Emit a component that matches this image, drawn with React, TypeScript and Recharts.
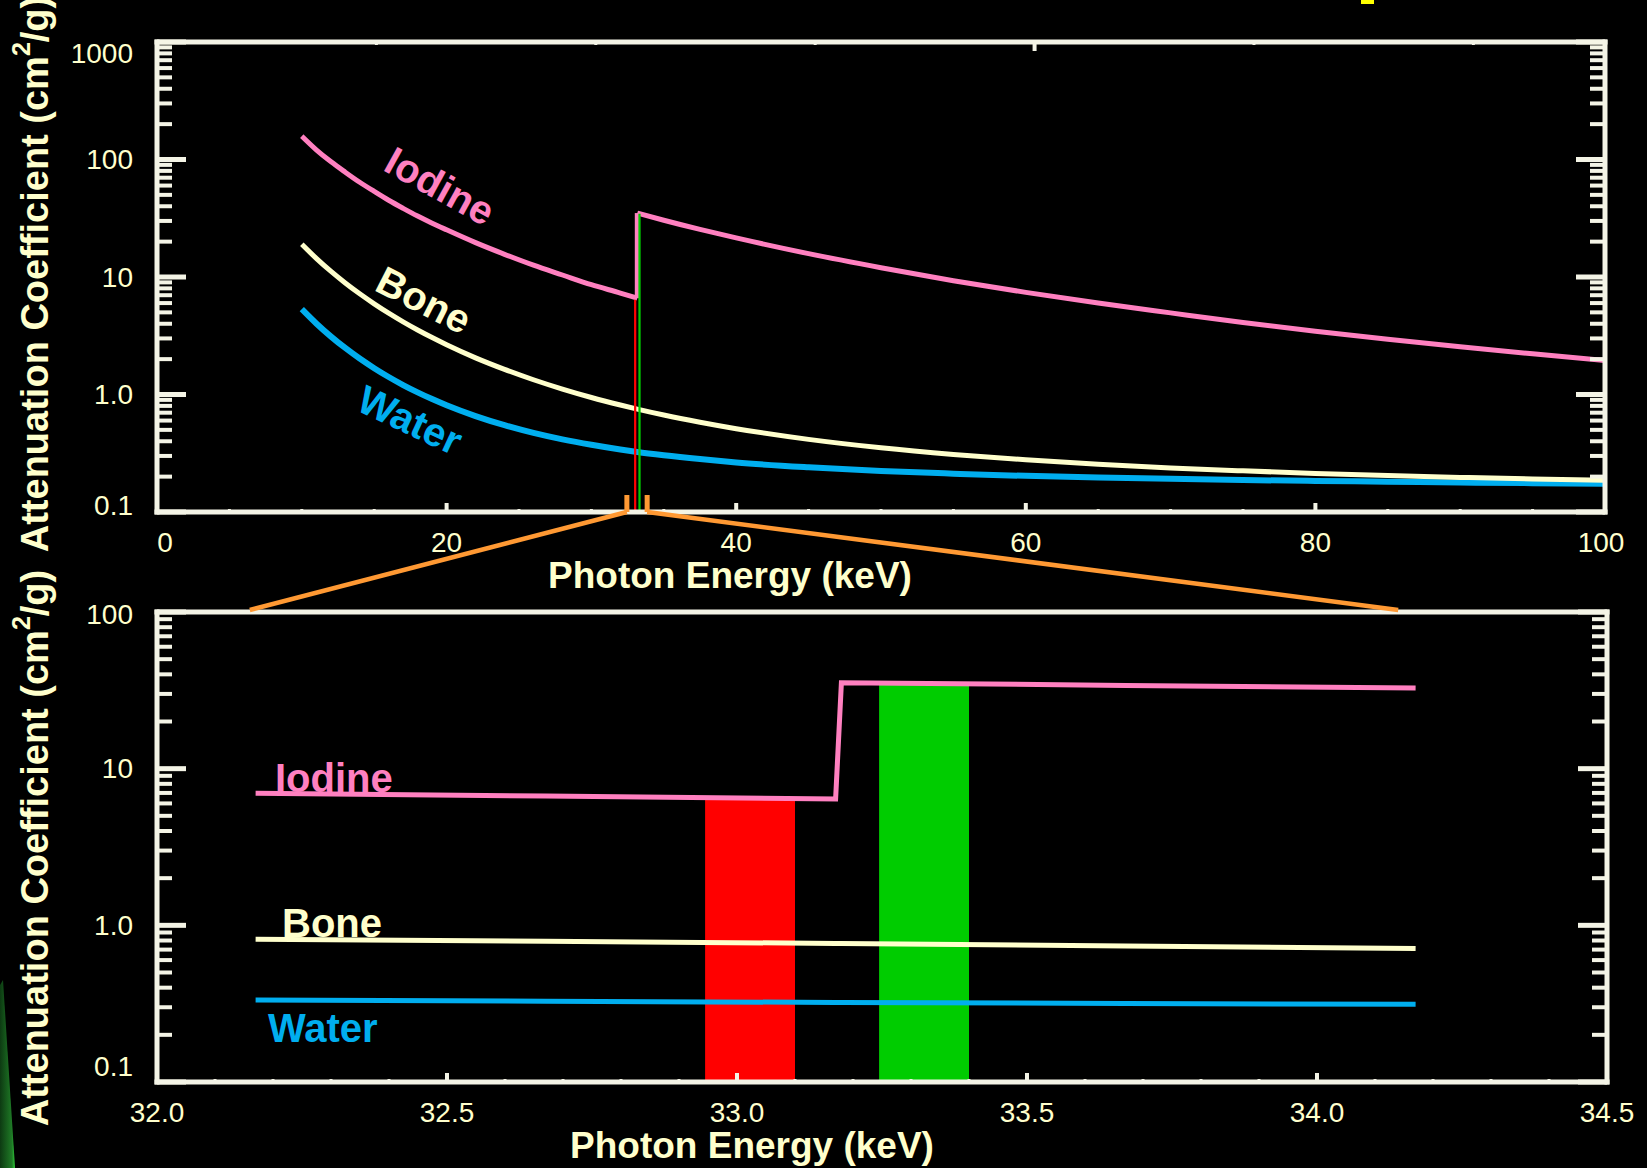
import React from "react";
import { LineChart, Line, XAxis, YAxis, ReferenceArea } from "recharts";

const FONT = '"Liberation Sans", Arial, Helvetica, sans-serif';
const CREAM = "#FFFFCC";
const FRAME = "#F4F4E6";
const PINK = "#FF80C0";
const BONE = "#FFFFCC";
const BLUE = "#00AEEF";
const ORANGE = "#FF9933";

// top panel: 10–100 keV (iodine K-edge at 33.17 keV, listed twice)
const topEnergy = [10, 11, 12, 13, 14, 15, 16, 17, 18, 19, 20, 22, 24, 26, 28, 30, 32, 33.17, 33.17, 35, 37.5, 40, 45, 50, 55, 60, 65, 70, 75, 80, 85, 90, 95, 100];
const topIodine = [158, 121, 96, 78, 64, 53.5, 45, 38.4, 33, 28.7, 25.2, 19.6, 15.6, 12.6, 10.4, 8.6, 7.3, 6.6, 35, 30.4, 25.4, 21.5, 15.8, 12.0, 9.3, 7.4, 6.0, 4.95, 4.1, 3.45, 2.95, 2.55, 2.22, 1.95];
const topBone = [19.0, 14.41, 11.2, 8.89, 7.19, 5.91, 4.92, 4.15, 3.54, 3.05, 2.65, 2.05, 1.636, 1.335, 1.112, 0.943, 0.814, 0.751, 0.751, 0.669, 0.581, 0.512, 0.415, 0.352, 0.309, 0.278, 0.255, 0.237, 0.224, 0.213, 0.204, 0.197, 0.191, 0.186];
const topWater = [5.33, 4.025, 3.126, 2.488, 2.022, 1.674, 1.409, 1.204, 1.043, 0.914, 0.81, 0.655, 0.548, 0.471, 0.415, 0.373, 0.34, 0.324, 0.324, 0.304, 0.282, 0.264, 0.24, 0.223, 0.212, 0.203, 0.197, 0.192, 0.187, 0.184, 0.181, 0.178, 0.176, 0.174];

// bottom panel: zoom on the edge, 32.17–34.17 keV
const botEnergy = [32.17, 32.67, 33.17, 33.18, 33.67, 34.17];
const botIodine = [6.97, 6.68, 6.4, 35.4, 34.0, 32.7];
const botBone = [0.815, 0.79, 0.767, 0.766, 0.738, 0.711];
const botWater = [0.334, 0.328, 0.322, 0.322, 0.317, 0.313];

// energy windows below / above the edge
const bandFrom = [32.945, 33.245];
const bandTo = [33.1, 33.4];
const bandTop = [6.4, 34.5];
const bandColor = ["#FF0000", "#00CC00"];

// axes
const topXMajor = [0, 20, 40, 60, 80, 100];
const topXMinorStep = 5;
const botXMajor = [32.0, 32.5, 33.0, 33.5, 34.0, 34.5];
const botXMinorStep = 0.1;
const topDecades = [0.1, 1, 10, 100, 1000];
const botDecades = [0.1, 1, 10, 100];

// zoom annotation (keV on the top axis -> keV on the bottom axis)
const zoomFromTop = [32.45, 33.85];
const zoomToBottom = [32.16, 34.14];

const TOP = { left: 157, right: 1605, top: 42, bottom: 512, x0: 0, x1: 100 };
const BOT = { left: 157, right: 1607, top: 612, bottom: 1082, x0: 32, x1: 34.5 };
const px = (g: typeof TOP, e: number) => g.left + ((e - g.x0) / (g.x1 - g.x0)) * (g.right - g.left);

// split iodine at the edge so both branches can be smooth curves
const edgeIdx = topEnergy.findIndex((e, i) => e === topEnergy[i + 1]);
const topData = topEnergy.map((e, i) => ({
  e,
  iodineLo: i <= edgeIdx ? topIodine[i] : null,
  iodineHi: i > edgeIdx ? topIodine[i] : null,
  iodineEdge: i === edgeIdx || i === edgeIdx + 1 ? topIodine[i] : null,
  bone: i === edgeIdx + 1 ? null : topBone[i],
  water: i === edgeIdx + 1 ? null : topWater[i],
}));
const botData = botEnergy.map((e, i) => ({ e, iodine: botIodine[i], bone: botBone[i], water: botWater[i] }));

function logTicks(decades: number[]) {
  const out: number[] = [];
  decades.forEach((d, i) => {
    out.push(d);
    if (i < decades.length - 1) for (let k = 2; k <= 9; k++) out.push(Number((d * k).toPrecision(3)));
  });
  return out;
}

function linTicks(majors: number[], step: number) {
  const out: number[] = [];
  const a = majors[0], b = majors[majors.length - 1];
  const n = Math.round((b - a) / step);
  for (let i = 0; i <= n; i++) out.push(Number((a + i * step).toFixed(2)));
  return out;
}

const isIn = (list: number[], v: number) => list.some((m) => Math.abs(m - v) < 1e-6);
const fmtY = (v: number) => (v >= 10 ? String(v) : v.toFixed(1));

function yTick(side: "left" | "right", majors: number[], nudge: Record<string, number>) {
  return (p: any) => {
    const v = p.payload.value;
    const major = isIn(majors, v);
    const dir = side === "left" ? 1 : -1;
    const len = major ? 29 : 15;
    return (
      <g>
        <line x1={p.x} y1={p.y} x2={p.x + dir * len} y2={p.y} stroke={FRAME} strokeWidth={major ? 5 : 4} />
        {side === "left" && major && (
          <text x={p.x - 24} y={p.y + (nudge[String(v)] ?? 0)} textAnchor="end" dominantBaseline="central"
            fill={CREAM} fontSize={28} fontFamily={FONT}>
            {fmtY(v)}
          </text>
        )}
      </g>
    );
  };
}

function xTick(side: "top" | "bottom", majors: number[], fmt: (v: number) => string, nudge: Record<string, number> = {}) {
  return (p: any) => {
    const v = p.payload.value;
    const major = isIn(majors, v);
    const dir = side === "bottom" ? -1 : 1;
    const len = major ? 9 : 3;
    return (
      <g>
        <line x1={p.x} y1={p.y} x2={p.x} y2={p.y + dir * len} stroke={FRAME} strokeWidth={major ? 4 : 3} />
        {side === "bottom" && major && (
          <text x={p.x + (nudge[String(v)] ?? 0)} y={p.y + 40} textAnchor="middle" fill={CREAM} fontSize={28} fontFamily={FONT}>
            {fmt(v)}
          </text>
        )}
      </g>
    );
  };
}

const axisLine = { stroke: FRAME, strokeWidth: 5, strokeLinecap: "square" as const };

function Bands({ z }: { z: number }) {
  return (
    <>
      {bandFrom.map((f, i) => (
        <ReferenceArea key={i} x1={f} x2={bandTo[i]} y1={0.1} y2={bandTop[i]} fill={bandColor[i]}
          fillOpacity={1} stroke="none" ifOverflow="hidden" zIndex={z} />
      ))}
    </>
  );
}

export default function App() {
  const topY = logTicks(topDecades);
  const botY = logTicks(botDecades);
  const topX = linTicks(topXMajor, topXMinorStep);
  const botX = linTicks(botXMajor, botXMinorStep);

  return (
    <div style={{ position: "absolute", left: 0, top: 0, width: 1647, height: 1168, background: "#000", overflow: "hidden" }}>
      {/* upper panel */}
      <div style={{ position: "absolute", left: 0, top: 0 }}>
        <LineChart width={1647} height={600} data={topData} margin={{ top: 32, right: 32, bottom: 38, left: 57 }}>
          <XAxis xAxisId={0} dataKey="e" type="number" domain={[0, 100]} allowDataOverflow ticks={topX} interval={0}
            height={50} tickSize={0} tickMargin={0} tickLine={false} axisLine={axisLine}
            tick={xTick("bottom", topXMajor, (v) => String(v), { "0": 8, "100": -4 })} />
          <XAxis xAxisId="top" orientation="top" type="number" domain={[0, 100]} allowDataOverflow ticks={topX} interval={0}
            height={10} tickSize={0} tickMargin={0} tickLine={false} axisLine={axisLine}
            tick={xTick("top", topXMajor, (v) => String(v))} />
          <YAxis yAxisId={0} type="number" scale="log" domain={[0.1, 1000]} allowDataOverflow ticks={topY} interval={0}
            width={100} tickSize={0} tickMargin={0} tickLine={false} axisLine={axisLine}
            tick={yTick("left", topDecades, { "1000": 11, "0.1": -7 })} />
          <YAxis yAxisId="right" orientation="right" type="number" scale="log" domain={[0.1, 1000]} allowDataOverflow
            ticks={topY} interval={0} width={10} tickSize={0} tickMargin={0} tickLine={false} axisLine={axisLine}
            tick={yTick("right", topDecades, {})} />
          <Line type="monotone" dataKey="water" stroke={BLUE} strokeWidth={6} dot={false} connectNulls isAnimationActive={false} />
          <Line type="monotone" dataKey="bone" stroke={BONE} strokeWidth={5} dot={false} connectNulls isAnimationActive={false} />
          <Line type="monotone" dataKey="iodineLo" stroke={PINK} strokeWidth={5} dot={false} isAnimationActive={false} />
          <Line type="linear" dataKey="iodineEdge" stroke={PINK} strokeWidth={5} dot={false} isAnimationActive={false} />
          <Line type="monotone" dataKey="iodineHi" stroke={PINK} strokeWidth={5} dot={false} isAnimationActive={false} />
          <Bands z={450} />
        </LineChart>
      </div>

      {/* lower panel */}
      <div style={{ position: "absolute", left: 0, top: 560 }}>
        <LineChart width={1647} height={608} data={botData} margin={{ top: 42, right: 30, bottom: 36, left: 57 }}>
          <Bands z={50} />
          <XAxis xAxisId={0} dataKey="e" type="number" domain={[32, 34.5]} allowDataOverflow ticks={botX} interval={0}
            height={50} tickSize={0} tickMargin={0} tickLine={false} axisLine={axisLine}
            tick={xTick("bottom", botXMajor, (v) => v.toFixed(1))} />
          <XAxis xAxisId="top" orientation="top" type="number" domain={[32, 34.5]} allowDataOverflow ticks={botX} interval={0}
            height={10} tickSize={0} tickMargin={0} tickLine={false} axisLine={axisLine}
            tick={xTick("top", botXMajor, (v) => v.toFixed(1))} />
          <YAxis yAxisId={0} type="number" scale="log" domain={[0.1, 100]} allowDataOverflow ticks={botY} interval={0}
            width={100} tickSize={0} tickMargin={0} tickLine={false} axisLine={axisLine}
            tick={yTick("left", botDecades, { "100": 2, "0.1": -16 })} />
          <YAxis yAxisId="right" orientation="right" type="number" scale="log" domain={[0.1, 100]} allowDataOverflow
            ticks={botY} interval={0} width={10} tickSize={0} tickMargin={0} tickLine={false} axisLine={axisLine}
            tick={yTick("right", botDecades, {})} />
          <Line dataKey="water" stroke={BLUE} strokeWidth={5} dot={false} isAnimationActive={false} />
          <Line dataKey="bone" stroke={BONE} strokeWidth={5} dot={false} isAnimationActive={false} />
          <Line dataKey="iodine" stroke={PINK} strokeWidth={5} dot={false} isAnimationActive={false} />
        </LineChart>
      </div>

      {/* annotations */}
      <svg width={1647} height={1168} style={{ position: "absolute", left: 0, top: 0, pointerEvents: "none" }} fontFamily={FONT}>
        <defs>
          <linearGradient id="edgeGlow" x1="0" y1="0" x2="1" y2="0">
            <stop offset="0%" stopColor="#0d3a12" />
            <stop offset="80%" stopColor="#1f7a26" />
            <stop offset="100%" stopColor="#2fcf3a" />
          </linearGradient>
        </defs>
        <polygon points="0,985 3,980 15,1168 0,1168" fill="url(#edgeGlow)" />
        <rect x={1361} y={0} width={13} height={4} fill="#FFFF00" />

        {zoomFromTop.map((e, i) => (
          <g key={i}>
            <line x1={px(TOP, e)} y1={TOP.bottom - 17} x2={px(TOP, e)} y2={TOP.bottom} stroke={ORANGE} strokeWidth={5} />
            <line x1={px(TOP, e)} y1={TOP.bottom} x2={px(BOT, zoomToBottom[i])} y2={BOT.top - 2} stroke={ORANGE} strokeWidth={4.5} />
          </g>
        ))}

        {[274, 848].map((cy) => (
          <text key={cy} transform={`translate(35,${cy}) rotate(-90)`} textAnchor="middle" dominantBaseline="central"
            fill={CREAM} fontSize={38} fontWeight="bold">
            Attenuation Coefficient (cm<tspan baselineShift="super" fontSize={25}>2</tspan>/g)
          </text>
        ))}
        <text x={730} y={588} textAnchor="middle" fill={CREAM} fontSize={37} fontWeight="bold">Photon Energy (keV)</text>
        <text x={752} y={1158} textAnchor="middle" fill={CREAM} fontSize={37} fontWeight="bold">Photon Energy (keV)</text>

        <text transform="translate(440,186) rotate(29)" textAnchor="middle" dominantBaseline="central" fill={PINK} fontSize={40} fontWeight="bold">Iodine</text>
        <text transform="translate(424,300) rotate(27)" textAnchor="middle" dominantBaseline="central" fill={BONE} fontSize={40} fontWeight="bold">Bone</text>
        <text transform="translate(410,420) rotate(25)" textAnchor="middle" dominantBaseline="central" fill={BLUE} fontSize={40} fontWeight="bold">Water</text>

        <text x={275} y={792} fill={PINK} fontSize={40} fontWeight="bold">Iodine</text>
        <text x={282} y={937} fill={BONE} fontSize={40} fontWeight="bold">Bone</text>
        <text x={268} y={1042} fill={BLUE} fontSize={40} fontWeight="bold">Water</text>
      </svg>
    </div>
  );
}
